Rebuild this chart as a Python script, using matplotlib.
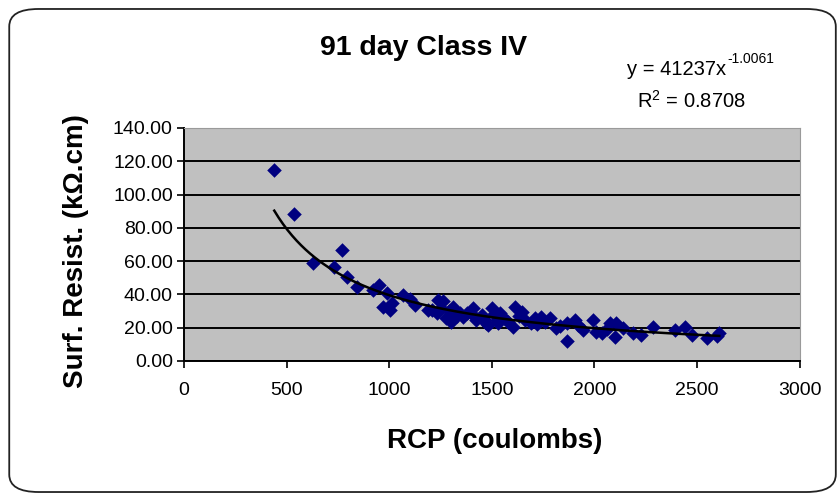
import numpy as np
import matplotlib.pyplot as plt
from matplotlib.patches import FancyBboxPatch

plt.rcParams['font.family'] = ['Liberation Sans', 'DejaVu Sans']
plt.rcParams['mathtext.fontset'] = 'custom'
plt.rcParams['mathtext.rm'] = 'Liberation Sans'

# RCP (coulombs) vs surface resistivity (kOhm.cm), 91 day Class IV
rcp = [440, 534, 630, 732, 770, 795, 841, 922, 951, 987, 971, 1003, 1016,
       1068, 1100, 1125, 1190, 1231, 1239, 1263, 1279, 1250, 1312, 1330,
       1344, 1360, 1380, 1409, 1425, 1450, 1474, 1499, 1510, 1523, 1531,
       1539, 1560, 1604, 1612, 1630, 1645, 1661, 1690, 1710, 1742, 1760,
       1783, 1815, 1830, 1864, 1867, 1904, 1920, 1945, 1994, 2010, 2035,
       2060, 2075, 2099, 2107, 2140, 2189, 2229, 2286, 2392, 2440, 2473,
       2546, 2595, 2608, 1290, 1210, 1460, 1580, 1720, 1300, 1400, 1480]
resist = [115.0, 88.1, 59.1, 56.7, 66.7, 50.7, 44.7, 42.7, 45.7, 40.7,
          32.3, 30.6, 35.0, 39.7, 37.0, 33.7, 30.6, 28.6, 36.7, 35.8, 25.6,
          32.0, 32.6, 27.0, 28.6, 26.6, 29.0, 31.6, 24.6, 27.6, 22.6, 31.6,
          28.0, 24.6, 22.6, 28.6, 26.0, 20.6, 32.6, 27.0, 29.6, 24.6, 23.0,
          25.6, 26.6, 23.5, 25.6, 19.6, 21.0, 22.6, 12.2, 24.6, 21.5, 18.6,
          24.6, 17.6, 17.0, 19.0, 22.6, 14.6, 22.6, 19.6, 16.6, 15.6, 20.2,
          18.6, 20.2, 15.6, 13.6, 15.0, 16.6, 30.0, 30.5, 25.0, 23.5, 22.0,
          23.5, 29.0, 21.5]

# power trendline y = 41237 x^-1.0061
coef_a = 41237
coef_b = -1.0061
r_squared = 0.8708

fig = plt.figure(figsize=(8.4, 4.99), dpi=100)
ax = fig.add_axes([0.219, 0.2766, 0.733, 0.467])
ax.set_facecolor('#c0c0c0')

ax.scatter(rcp, resist, marker='D', s=55, color='#000080', zorder=3,
           linewidths=0)
xs = np.linspace(min(rcp), max(rcp), 200)
ax.plot(xs, coef_a * xs ** coef_b, color='black', lw=1.8, zorder=4)

ax.set_xlim(0, 3000)
ax.set_ylim(0, 140)
ax.set_xticks(range(0, 3001, 500))
ax.set_yticks(range(0, 141, 20))
ax.set_yticklabels([f'{v:.2f}' for v in range(0, 141, 20)])
ax.yaxis.grid(True, color='black', lw=1.4)
ax.set_axisbelow(True)
ax.tick_params(axis='both', labelsize=14, direction='out', length=5,
               width=1.2)
ax.tick_params(axis='x', pad=10)
ax.tick_params(axis='y', pad=3)
for side in ['top', 'right']:
    ax.spines[side].set_color('#9a9a9a')
for side in ['left', 'bottom']:
    ax.spines[side].set_linewidth(1.4)

# axis titles and chart title
fig.text(0.589, 0.116, 'RCP (coulombs)', ha='center', va='center',
         fontsize=20, fontweight='bold')
fig.text(0.091, 0.497, 'Surf. Resist. (k\u03a9.cm)', ha='center',
         va='center', rotation=90, fontsize=20, fontweight='bold')
fig.text(0.504, 0.904, '91 day Class IV', ha='center', va='center',
         fontsize=20.5, fontweight='bold')

# trendline equation
fig.text(0.864, 0.86, f'y = {coef_a}x', ha='right', va='center',
         fontsize=14.5)
fig.text(0.866, 0.882, f'{coef_b}', ha='left', va='center', fontsize=10)
fig.text(0.823, 0.797, f'R$^2$ = {r_squared}', ha='center', va='center',
         fontsize=14.5)

frame = FancyBboxPatch((0.011, 0.014), 0.984, 0.968,
                       boxstyle='round,pad=0,rounding_size=0.035',
                       transform=fig.transFigure, fill=False,
                       edgecolor='#222222', lw=1.3)
fig.patches.append(frame)

fig.savefig('out.png', dpi=100)
